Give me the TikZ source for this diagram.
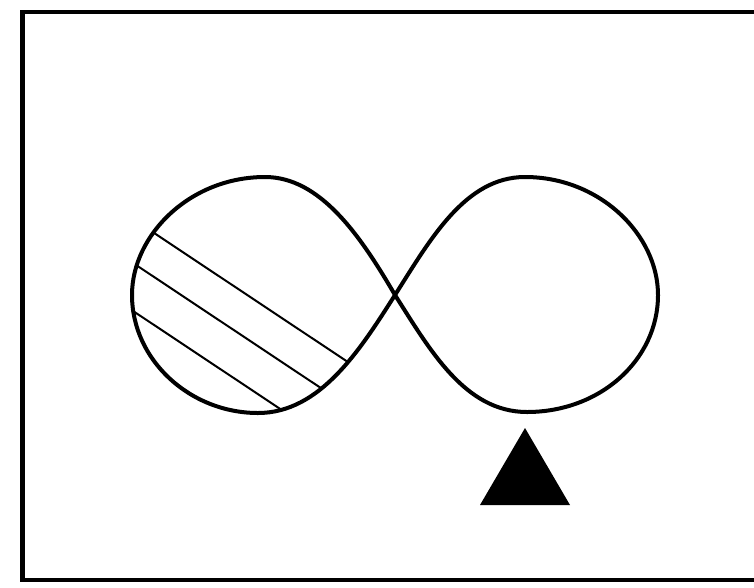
\documentclass[tikz,border=0pt]{standalone}
\begin{document}
\begin{tikzpicture}[x=1pt,y=-1pt,
  framestyle/.style={line width=4.5pt},
  loopstyle/.style={line width=4pt},
  hatchstyle/.style={line width=2pt}]
\useasboundingbox (0,0) rectangle (754,587);
\clip (0,0) rectangle (754,587);
% frame
\draw[framestyle] (22.5,12) rectangle (780,580);
% crossing point
\coordinate (C) at (395,295);
% hatch lines clipped to left lobe
\begin{scope}
\clip (C) .. controls (360,235) and (320,177) .. (265,177)
  .. controls (190,177) and (132,235) .. (132,295)
  .. controls (132,360) and (190,413) .. (258,413)
  .. controls (320,413) and (360,350) .. (C) -- cycle;
\draw[hatchstyle] (100,197) -- (420,410);
\draw[hatchstyle] (100,241) -- (420,454);
\draw[hatchstyle] (100,289) -- (420,502);
\end{scope}
% left lobe
\draw[loopstyle] (C) .. controls (360,235) and (320,177) .. (265,177)
  .. controls (190,177) and (132,235) .. (132,295)
  .. controls (132,360) and (190,413) .. (258,413)
  .. controls (320,413) and (360,350) .. (C);
% right lobe
\draw[loopstyle] (C) .. controls (430,240) and (465,177) .. (525,177)
  .. controls (600,177) and (658,235) .. (658,295)
  .. controls (658,360) and (600,412) .. (527,412)
  .. controls (465,412) and (430,350) .. (C);
% triangle
\fill (525,428) -- (570,505) -- (480,505) -- cycle;
\end{tikzpicture}
\end{document}
